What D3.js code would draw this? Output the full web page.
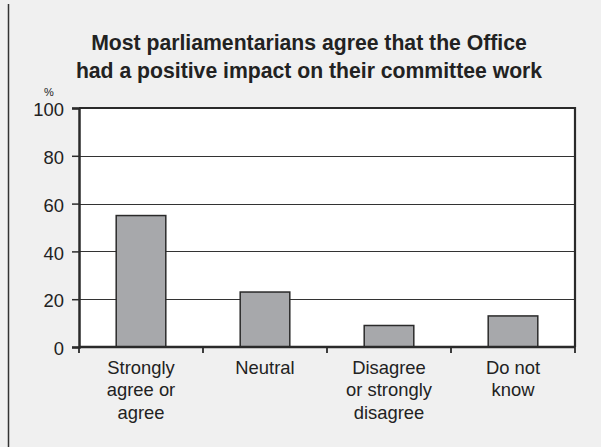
<!DOCTYPE html>
<html>
<head>
<meta charset="utf-8">
<script src="https://cdn.jsdelivr.net/npm/d3@7/dist/d3.min.js"></script>
<style>
  html, body { margin: 0; padding: 0; background: #f0f0f0; }
  svg { display: block; }
  text { font-family: "Liberation Sans", Arial, sans-serif; fill: #222; }
</style>
</head>
<body>
<svg id="chart" width="601" height="447"></svg>
<script>
// Survey responses (% of parliamentarians)
const categories = ["Strongly agree or agree", "Neutral", "Disagree or strongly disagree", "Do not know"];
const categoryLines = [["Strongly", "agree or", "agree"], ["Neutral"], ["Disagree", "or strongly", "disagree"], ["Do not", "know"]];
const values = [55, 23, 9, 13];
const yTicks = [0, 20, 40, 60, 80, 100];
const titleLines = ["Most parliamentarians agree that the Office", "had a positive impact on their committee work"];

const W = 601, H = 447;
const margin = { top: 108, right: 26, bottom: 100, left: 79 };
const svg = d3.select("#chart");

svg.append("rect").attr("width", W).attr("height", H).attr("fill", "#f0f0f0");
// frame line on the left edge
svg.append("line")
  .attr("x1", 8.5).attr("x2", 8.5).attr("y1", 4).attr("y2", H)
  .attr("stroke", "#333").attr("stroke-width", 1.5);

const x = d3.scaleBand()
  .domain(categories)
  .range([margin.left, W - margin.right])
  .paddingInner(0.6)
  .paddingOuter(0.3);

const y = d3.scaleLinear()
  .domain([0, 100])
  .range([H - margin.bottom, margin.top]);

// plot area
svg.append("rect")
  .attr("x", margin.left).attr("y", y(100))
  .attr("width", W - margin.right - margin.left)
  .attr("height", y(0) - y(100))
  .attr("fill", "#fff");

// gridlines
svg.append("g")
  .selectAll("line")
  .data(yTicks.filter(t => t > 0 && t < 100))
  .join("line")
  .attr("x1", margin.left).attr("x2", W - margin.right)
  .attr("y1", d => Math.round(y(d)) + 0.5).attr("y2", d => Math.round(y(d)) + 0.5)
  .attr("stroke", "#333").attr("stroke-width", 1);

// bars
svg.append("g")
  .selectAll("rect")
  .data(values)
  .join("rect")
  .attr("x", (d, i) => x(categories[i]))
  .attr("y", d => y(d))
  .attr("width", x.bandwidth())
  .attr("height", d => y(0) - y(d))
  .attr("fill", "#a7a8ab")
  .attr("stroke", "#2a2a2a")
  .attr("stroke-width", 1.5);

// top and right border
svg.append("path")
  .attr("d", `M${margin.left},${y(100)}H${W - margin.right}V${y(0)}`)
  .attr("fill", "none").attr("stroke", "#2a2a2a").attr("stroke-width", 2.2);

// y axis
const yAxis = svg.append("g")
  .attr("transform", `translate(${margin.left},0)`)
  .call(d3.axisLeft(y).tickValues(yTicks).tickSize(7).tickPadding(8));
yAxis.select(".domain").attr("stroke", "#2a2a2a").attr("stroke-width", 2.5);
yAxis.selectAll(".tick line").attr("stroke", "#2a2a2a").attr("stroke-width", 1.5);
yAxis.selectAll(".tick text")
  .attr("dy", "0.42em")
  .style("font-family", "'Liberation Sans', Arial, sans-serif")
  .style("font-size", "18.4px").attr("fill", "#222");

// x axis with ticks at the category boundaries
const boundaries = d3.range(categories.length + 1).map(i => x.range()[0] + i * x.step());
const xAxis = svg.append("g");
xAxis.append("line")
  .attr("x1", margin.left).attr("x2", W - margin.right)
  .attr("y1", y(0)).attr("y2", y(0))
  .attr("stroke", "#2a2a2a").attr("stroke-width", 2.5);
xAxis.selectAll("line.tk")
  .data(boundaries)
  .join("line").attr("class", "tk")
  .attr("x1", d => d).attr("x2", d => d)
  .attr("y1", y(0)).attr("y2", y(0) + 6)
  .attr("stroke", "#2a2a2a").attr("stroke-width", 1.8);

// category labels
const labels = svg.append("g");
categoryLines.forEach((lines, i) => {
  const cx = x(categories[i]) + x.bandwidth() / 2;
  const t = labels.append("text")
    .attr("text-anchor", "middle")
    .attr("font-size", "18.4px");
  lines.forEach((ln, j) => {
    t.append("tspan").attr("x", cx).attr("y", y(0) + 26.5 + j * 22.8).text(ln);
  });
});

// unit label
svg.append("text")
  .attr("x", 49).attr("y", 96)
  .attr("text-anchor", "middle")
  .attr("font-size", "11px")
  .text("%");

// title
const title = svg.append("text")
  .attr("text-anchor", "middle")
  .attr("font-size", "21.2px")
  .attr("font-weight", "bold");
titleLines.forEach((ln, j) => {
  title.append("tspan").attr("x", 309).attr("y", 49.5 + j * 28).text(ln);
});
</script>
</body>
</html>
